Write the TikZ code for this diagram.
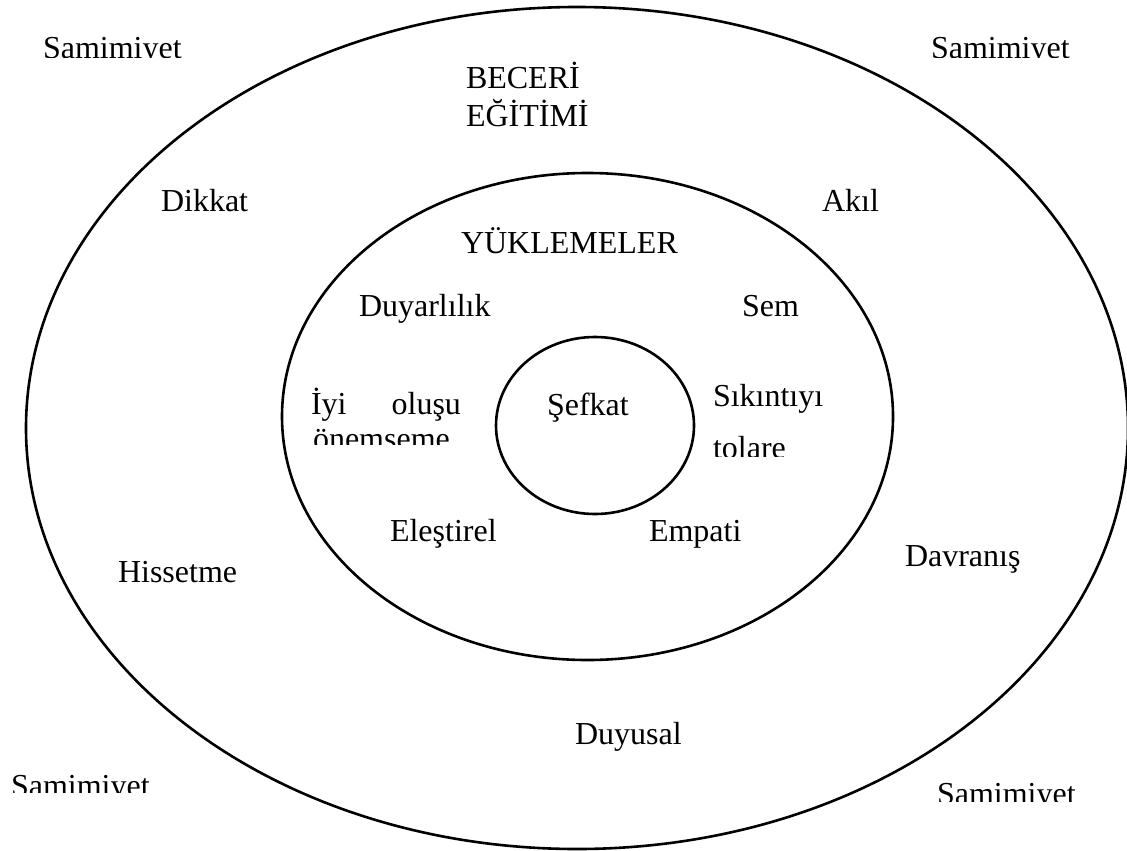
\documentclass[tikz,border=0pt]{standalone}
\usepackage{fontspec}
\setmainfont{Liberation Serif}
\usetikzlibrary{calc}

\begin{document}
\begin{tikzpicture}[x=0.5pt, y=-0.5pt, inner sep=0pt, outer sep=0pt,
    every node/.style={anchor=base west, font=\fontsize{16}{19}\selectfont},
    ring/.style={line width=1.3pt}]
    \useasboundingbox (0,0) rectangle (1127,850);

    % rings
    \coordinate (c_out) at (577,428);
    \coordinate (c_mid) at (587.5,416.5);
    \coordinate (c_in) at (595,425.5);
    \draw[ring] (c_out) ellipse [x radius=551, y radius=421];
    \draw[ring] (c_mid) ellipse [x radius=305.5, y radius=243.5];
    \draw[ring] (c_in) ellipse [x radius=99, y radius=88.5];

    % corners (cut off at the bottom)
    \begin{scope}
    \clip (0,0) rectangle (1127,58);
    \node (sam_tl) at (43,59) {Samimiyet};
    \node (sam_tr) at (931,59) {Samimiyet};
    \end{scope}
    \begin{scope}
    \clip (0,700) rectangle (400,792);
    \node (sam_bl) at (11,796) {Samimiyet};
    \end{scope}
    \begin{scope}
    \clip (800,700) rectangle (1127,801);
    \node (sam_br) at (937,804) {Samimiyet};
    \end{scope}

    % outer ring
    \node (beceri) at (466,89) {BECERİ};
    \node (egitimi) at ($(beceri.base west)+(0,38)$) {EĞİTİMİ};
    \node (dikkat) at (161,212) {Dikkat};
    \node (akil) at (822,212) {Akıl};
    \node (hissetme) at (118,582) {Hissetme};
    \node (davranis) at (905,566) {Davranış};
    \node (duyusal) at (575,744) {Duyusal};

    % middle ring
    \node (yuklemeler) at (461,253) {YÜKLEMELER};
    \node (duyarlilik) at (359,316) {Duyarlılık};
    \node (sem) at (742,316) {Sem};
    \node (iyi) at (311,414) {\hbox to 75pt{İyi\hfill oluşu}};
    \node (sikinti) at (713,406) {Sıkıntıyı};
    \begin{scope}
    \clip (300,420) rectangle (460,444);
    \node (onemseme) at ($(iyi.base west)+(2,35)$) {önemseme};
    \end{scope}
    \begin{scope}
    \clip (700,420) rectangle (860,456);
    \node (tolare) at ($(sikinti.base west)+(0,52)$) {tolare};
    \end{scope}
    \node (elestirel) at (390,541) {Eleştirel};
    \node (empati) at (649,541) {Empati};

    % centre
    \node (sefkat) at (547,415) {Şefkat};
\end{tikzpicture}
\end{document}
